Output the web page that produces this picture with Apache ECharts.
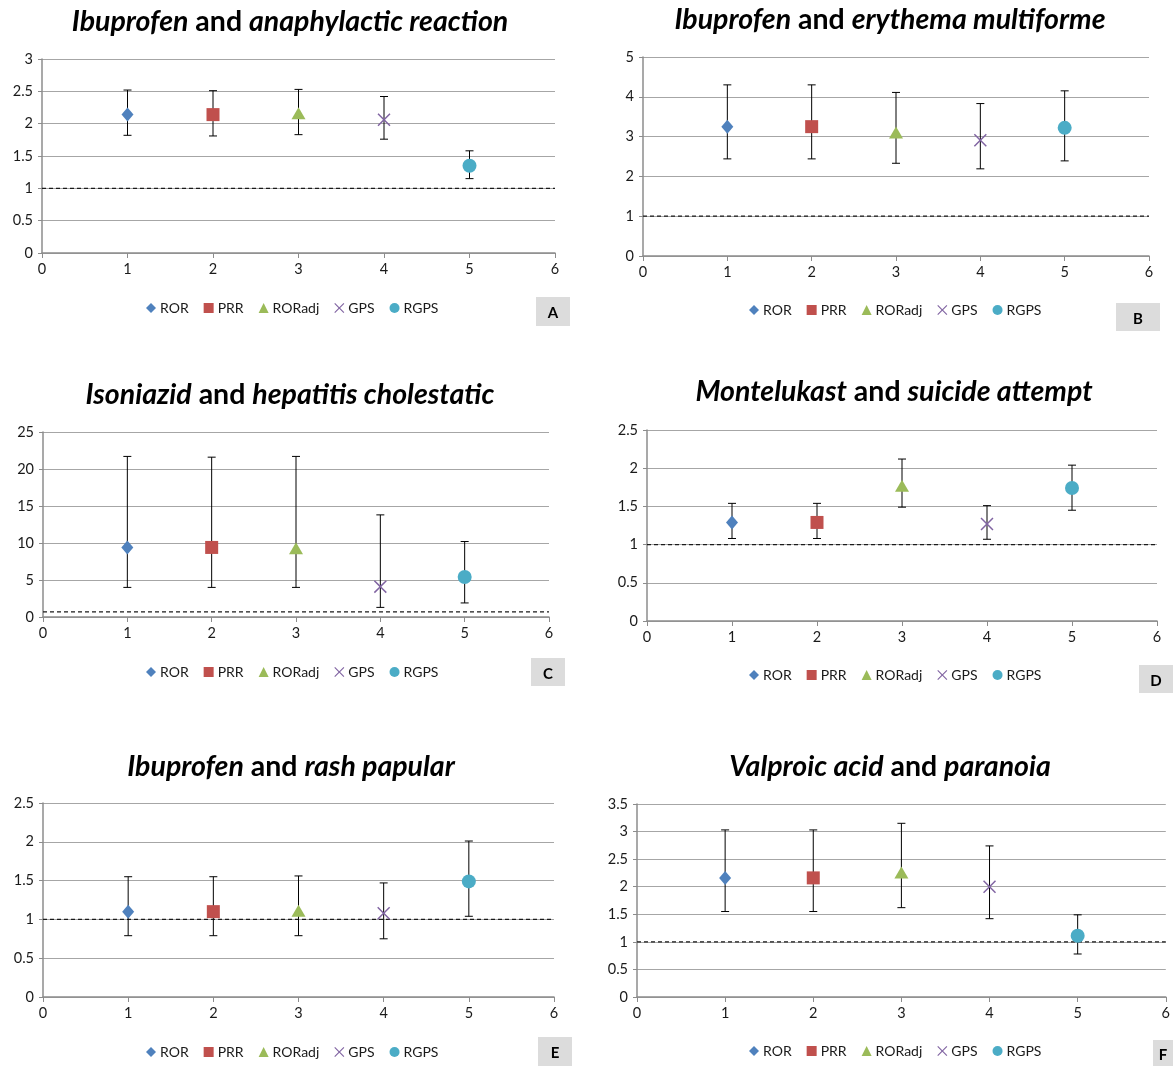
<!DOCTYPE html>
<html>
<head>
<meta charset="utf-8">
<script src="https://cdn.jsdelivr.net/npm/echarts@6/dist/echarts.min.js"></script>
<style>
  html, body { margin: 0; padding: 0; background: #fff; }
  #main { width: 1173px; height: 1066px; }
</style>
</head>
<body>
<div id="main"></div>
<script>
// methods shown in every panel, x positions 1..5
var methods = ['ROR', 'PRR', 'RORadj', 'GPS', 'RGPS'];
var xPos = [1, 2, 3, 4, 5];
var xTicks = [0, 1, 2, 3, 4, 5, 6];

var drugs = ['Ibuprofen', 'Ibuprofen', 'Isoniazid', 'Montelukast', 'Ibuprofen', 'Valproic acid'];
var events = ['anaphylactic reaction', 'erythema multiforme', 'hepatitis cholestatic', 'suicide attempt', 'rash papular', 'paranoia'];
var letters = ['A', 'B', 'C', 'D', 'E', 'F'];

// y axis ranges
var yMax = [3, 5, 25, 2.5, 2.5, 3.5];
var yStep = [0.5, 1, 5, 0.5, 0.5, 0.5];
// reference (dashed) line
var refLine = [1, 1, 0.7, 1, 1, 1];

// point estimates and confidence limits, per panel
var estA = [2.14, 2.14, 2.16, 2.06, 1.35];
var lowA = [1.82, 1.81, 1.83, 1.76, 1.15];
var highA = [2.52, 2.51, 2.53, 2.42, 1.58];

var estB = [3.25, 3.25, 3.10, 2.91, 3.22];
var lowB = [2.44, 2.44, 2.33, 2.19, 2.39];
var highB = [4.30, 4.30, 4.11, 3.83, 4.15];

var estC = [9.4, 9.4, 9.3, 4.1, 5.4];
var lowC = [4.0, 4.0, 4.0, 1.3, 1.9];
var highC = [21.7, 21.6, 21.7, 13.8, 10.2];

var estD = [1.29, 1.29, 1.77, 1.27, 1.74];
var lowD = [1.08, 1.08, 1.49, 1.07, 1.45];
var highD = [1.54, 1.54, 2.12, 1.51, 2.04];

var estE = [1.10, 1.10, 1.11, 1.08, 1.49];
var lowE = [0.79, 0.79, 0.79, 0.75, 1.04];
var highE = [1.55, 1.55, 1.56, 1.47, 2.01];

var estF = [2.16, 2.16, 2.26, 2.00, 1.11];
var lowF = [1.55, 1.55, 1.62, 1.42, 0.78];
var highF = [3.03, 3.03, 3.15, 2.74, 1.49];

var est = [estA, estB, estC, estD, estE, estF];
var low = [lowA, lowB, lowC, lowD, lowE, lowF];
var high = [highA, highB, highC, highD, highE, highF];

var colors = ['#4F81BD', '#C0504D', '#9BBB59', '#8064A2', '#4BACC6'];
var crossPath = 'path://M0,0.8L0.8,0L5,4.2L9.2,0L10,0.8L5.8,5L10,9.2L9.2,10L5,5.8L0.8,10L0,9.2L4.2,5Z';
var symbols = ['diamond', 'rect', 'triangle', crossPath, 'circle'];
var symSizes = [[12, 14], 13, [14, 12], 13, 14];

// panel layout (pixels)
var grids = [
  { left: 42, top: 59, width: 513, height: 194 },
  { left: 643, top: 57, width: 506, height: 199 },
  { left: 43, top: 432, width: 506, height: 185 },
  { left: 647, top: 430, width: 510, height: 191 },
  { left: 43, top: 803, width: 511, height: 194 },
  { left: 637, top: 804, width: 529, height: 193 }
];
var titlePos = [[290, 22], [890, 20], [290, 395], [894, 392], [291, 767], [890, 767]];
var legendPos = [[146, 301], [749, 303], [146, 665], [749, 668], [146, 1045], [749, 1044]];
var boxPos = [[536, 297, 34, 29], [1116, 303, 44, 28], [531, 658, 34, 28], [1139, 665, 34, 28], [538, 1037, 34, 29], [1153, 1040, 20, 26]];

var font = 'Lato, "Open Sans", sans-serif';

var chart = echarts.init(document.getElementById('main'));

var xAxes = [], yAxes = [], series = [], legends = [], graphics = [];

function errorBar(params, api) {
  var x = api.value(0);
  var pLo = api.coord([x, api.value(1)]);
  var pHi = api.coord([x, api.value(2)]);
  var cap = 4;
  var st = { stroke: '#000', lineWidth: 1 };
  return {
    type: 'group',
    children: [
      { type: 'line', shape: { x1: pLo[0], y1: pLo[1], x2: pHi[0], y2: pHi[1] }, style: st },
      { type: 'line', shape: { x1: pLo[0] - cap, y1: pLo[1], x2: pLo[0] + cap, y2: pLo[1] }, style: st },
      { type: 'line', shape: { x1: pHi[0] - cap, y1: pHi[1], x2: pHi[0] + cap, y2: pHi[1] }, style: st }
    ]
  };
}

for (var p = 0; p < 6; p++) {
  xAxes.push({
    gridIndex: p, type: 'value', min: 0, max: 6, interval: 1,
    axisLine: { lineStyle: { color: '#8c8c8c', width: 1.5 } },
    axisTick: { show: true, length: 5, lineStyle: { color: '#8c8c8c' } },
    axisLabel: { color: '#1a1a1a', fontSize: 14.5, fontFamily: font, margin: 9 },
    splitLine: { show: false }
  });
  yAxes.push({
    gridIndex: p, type: 'value', min: 0, max: yMax[p], interval: yStep[p],
    axisLine: { show: true, lineStyle: { color: '#8c8c8c', width: 1.5 } },
    axisTick: { show: true, length: 4, lineStyle: { color: '#8c8c8c' } },
    axisLabel: { color: '#1a1a1a', fontSize: 14.5, fontFamily: font, margin: 9 },
    splitLine: { show: true, lineStyle: { color: '#a6a6a6', width: 1.2 } }
  });

  var bars = xPos.map(function (x, i) { return [x, low[p][i], high[p][i]]; });
  series.push({
    type: 'custom', xAxisIndex: p, yAxisIndex: p, z: 2,
    renderItem: errorBar, encode: { x: 0, y: [1, 2] }, data: bars, silent: true
  });

  series.push({
    type: 'line', xAxisIndex: p, yAxisIndex: p, z: 1, silent: true,
    symbol: 'none', data: [[0, refLine[p]], [6, refLine[p]]],
    lineStyle: { color: '#1a1a1a', width: 1.3, type: [4, 3] }
  });

  for (var m = 0; m < methods.length; m++) {
    series.push({
      name: methods[m], type: 'scatter', xAxisIndex: p, yAxisIndex: p, z: 3,
      symbol: symbols[m], symbolSize: symSizes[m],
      itemStyle: { color: colors[m], opacity: 1 },
      data: [[xPos[m], est[p][m]]]
    });
  }

  legends.push({
    data: methods, left: legendPos[p][0], top: legendPos[p][1],
    itemWidth: 10, itemHeight: 10, itemGap: 15, padding: 0,
    textStyle: { fontSize: 14, fontFamily: font, color: '#1a1a1a', padding: [0, 0, 0, -1] },
    selectedMode: false
  });

  graphics.push({
    type: 'text', x: titlePos[p][0], y: titlePos[p][1],
    style: {
      text: '{i|' + drugs[p] + '}{b| and }{i|' + events[p] + '}',
      align: 'center', verticalAlign: 'middle',
      rich: {
        i: { fontFamily: font, fontSize: 28.5, fontWeight: 'bold', fontStyle: 'italic', fill: '#000' },
        b: { fontFamily: font, fontSize: 28.5, fontWeight: 'bold', fill: '#000' }
      }
    }
  });
  var b = boxPos[p];
  graphics.push({
    type: 'rect', shape: { x: b[0], y: b[1], width: b[2], height: b[3] },
    style: { fill: '#dcdcdc' }
  });
  graphics.push({
    type: 'text', x: b[0] + b[2] / 2, y: b[1] + b[3] / 2 + 2,
    style: {
      text: letters[p], align: 'center', verticalAlign: 'middle',
      fontFamily: font, fontSize: 15, fontWeight: 'bold', fill: '#000'
    }
  });
}

var option = {
  backgroundColor: '#fff',
  animation: false,
  grid: grids,
  xAxis: xAxes,
  yAxis: yAxes,
  legend: legends,
  graphic: graphics,
  series: series
};
chart.setOption(option);
</script>
</body>
</html>
